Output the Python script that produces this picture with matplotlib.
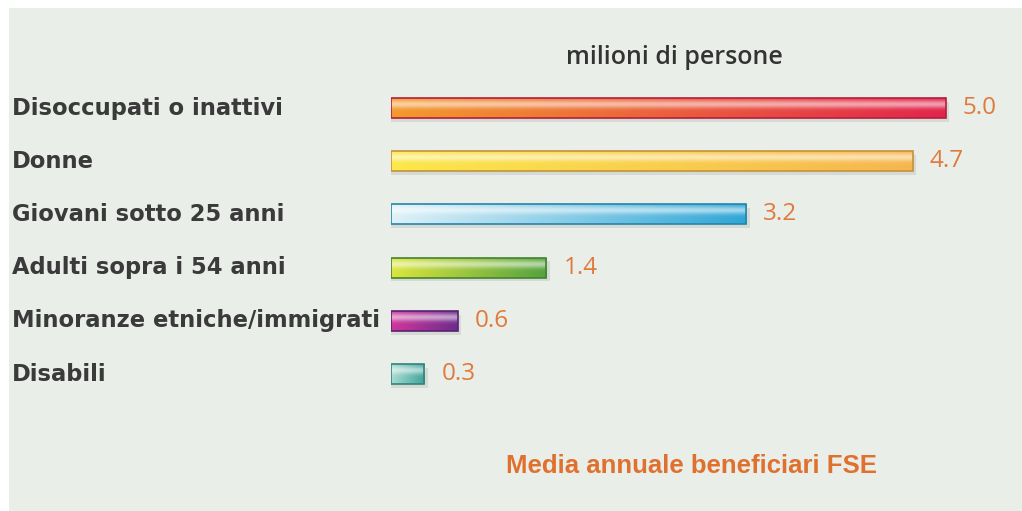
import matplotlib.pyplot as plt
import numpy as np
from matplotlib.colors import to_rgb
from matplotlib.patches import Rectangle

categories = ["Disoccupati o inattivi", "Donne", "Giovani sotto 25 anni",
              "Adulti sopra i 54 anni", "Minoranze etniche/immigrati", "Disabili"]
values = [5.0, 4.7, 3.2, 1.4, 0.6, 0.3]
value_labels = ["5.0", "4.7", "3.2", "1.4", "0.6", "0.3"]
unit_title = "milioni di persone"
footer = "Media annuale beneficiari FSE"

# gradient colours (left, right) for each bar
grad_left = ["#f39a2c", "#fbe84a", "#dff1f7", "#dbe53c", "#d2369a", "#a8dcd2"]
grad_right = ["#e2244c", "#f6b64e", "#2ea6d6", "#54a23e", "#6c2c8c", "#3ea49a"]

W, H = 1022, 511
fig = plt.figure(figsize=(W / 100, H / 100), dpi=100)
fig.patch.set_facecolor("white")
fig.patches.append(Rectangle((9 / W, 0), (W - 9) / W, (H - 8) / H, transform=fig.transFigure,
                             facecolor="#e9eee8", edgecolor="none", zorder=-5))

# axes: x=0 at px 391, 111 px per unit; rows centred at 108 + 53.2*i px
x0, ppu = 391, 111.0
y0, step = 108, 53.2
ax = fig.add_axes([x0 / W, 0, (W - x0) / W, 1])
ax.set_xlim(0, (W - x0) / ppu)
ax.set_ylim((H - y0) / step, -y0 / step)
ax.axis("off")
ax.patch.set_alpha(0)

bh = 20 / step
for i, (v, cl, cr) in enumerate(zip(values, grad_left, grad_right)):
    # shadow
    ax.barh(i + 0.07, v + 0.03, height=bh, color="#9aa59a", alpha=0.25, zorder=1)
    bar = ax.barh(i, v, height=bh, facecolor="none", edgecolor="none", zorder=2)[0]
    a, b = np.array(to_rgb(cl)), np.array(to_rgb(cr))
    nx, ny = 200, 30
    tx = np.linspace(0, 1, nx)[None, :, None]
    ty = np.linspace(0, 1, ny)[:, None, None]
    base = a * (1 - tx) + b * tx
    # gloss: lighter upper part
    gloss = 0.55 * np.exp(-((ty - 0.3) / 0.2) ** 2)
    img = base * (1 - gloss) + gloss
    im = ax.imshow(img, extent=[0, v, i + bh / 2, i - bh / 2], aspect="auto",
                   interpolation="bilinear", zorder=3)
    im.set_clip_path(bar)
    edge = np.clip(b * 0.8, 0, 1)
    ax.barh(i, v, height=bh, facecolor="none", edgecolor=edge, linewidth=1.2, zorder=4)
    ax.text(v + 17 / ppu, i, value_labels[i], va="center", ha="left", fontsize=17.5,
            color="#e07a3c", family="Open Sans")
    ax.text(-(x0 - 12) / ppu, i, categories[i], va="center", ha="left", fontsize=16.3,
            color="#3a3a3a", fontweight="bold", family="DejaVu Sans", clip_on=False)

fig.text(674 / W, 1 - 57 / H, unit_title, ha="center", va="center", fontsize=18,
         color="#333333", family="Open Sans", fontweight="semibold")
fig.text(692 / W, 1 - 466 / H, footer, ha="center", va="center", fontsize=18.5,
         color="#e0702e", fontweight="bold", family="Liberation Sans")

fig.savefig("out.png", dpi=100)
